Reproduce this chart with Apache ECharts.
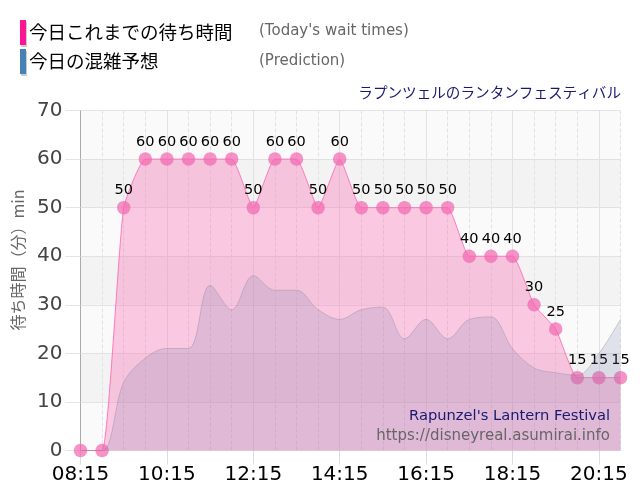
<!DOCTYPE html>
<html><head><meta charset="utf-8">
<style>html,body{margin:0;padding:0;background:#fff}#c{width:640px;height:500px}</style>
<script src="https://cdn.jsdelivr.net/npm/echarts@6/dist/echarts.min.js"></script>
</head><body><div id="c"></div>
<script>
const times = ['08:15','08:45','09:15','09:45','10:15','10:45','11:15','11:45','12:15','12:45','13:15','13:45','14:15','14:45','15:15','15:45','16:15','16:45','17:15','17:45','18:15','18:45','19:15','19:45','20:15','20:45'];
const waitTimes = [0,0,50,60,60,60,60,60,50,60,60,50,60,50,50,50,50,50,40,40,40,30,25,15,15,15];
const prediction = [0,0,14,19,21,21,34,29,36,33,33,29,27,29,29.5,23,27,23,27,27.5,21,17,16,15.5,20,27];
const legendJa = ['今日これまでの待ち時間','今日の混雑予想'];
const legendEn = ["(Today's wait times)",'(Prediction)'];
const axisName = '待ち時間（分）min';
const titleJa = 'ラプンツェルのランタンフェスティバル';
const titleEn = "Rapunzel's Lantern Festival";
const siteUrl = 'https://disneyreal.asumirai.info';
const jp = '"Noto Sans CJK JP","DejaVu Sans",sans-serif';
const latin = '"DejaVu Sans",sans-serif';
const every2h = i => i % 4 === 0;
const chart = echarts.init(document.getElementById('c'), null, {renderer:'canvas'});
chart.setOption({
  animation:false,
  backgroundColor:'#fff',
  grid:{left:80.5,right:19.5,top:110.5,bottom:49.5},
  xAxis:[
    {type:'category',data:times,boundaryGap:false,position:'bottom',
     axisLine:{show:false},
     axisTick:{show:true,interval:every2h,length:14,lineStyle:{color:'#ddd'}},
     axisLabel:{interval:every2h,color:'#000',fontSize:20,fontFamily:latin,margin:14,hideOverlap:false},
     splitLine:{show:true,interval:every2h,lineStyle:{color:'#ccc',type:'dotted',width:1}}},
    {type:'category',data:times,boundaryGap:false,position:'bottom',
     axisLine:{show:false},axisTick:{show:false},axisLabel:{show:false},
     splitLine:{show:true,interval:0,lineStyle:{color:'#e2e2e2',type:'dashed',width:1}}}
  ],
  yAxis:{type:'value',min:0,max:70,interval:10,
    axisLine:{show:true,lineStyle:{color:'#aaa'}},
    axisTick:{show:true,length:15,lineStyle:{color:'#e4e4e4'}},
    axisLabel:{color:'#444',fontSize:20,fontFamily:latin,margin:18},
    splitLine:{show:true,lineStyle:{color:'#ccc',type:'dotted'}},
    splitArea:{show:true,areaStyle:{color:['#fafafa','#f3f3f3']}}},
  series:[
    {name:'wait',type:'line',data:waitTimes,smooth:0.15,xAxisIndex:0,
     symbol:'circle',symbolSize:13.5,
     itemStyle:{color:'rgba(243,104,176,0.72)',borderWidth:0},
     lineStyle:{color:'rgba(255,105,180,0.85)',width:1},
     areaStyle:{color:'rgba(250,110,180,0.36)',opacity:1,origin:'start'},
     label:{show:true,position:'top',distance:3,color:'#000',fontSize:14.5,fontFamily:latin,formatter:p=>p.value?String(p.value):''},z:2},
    {name:'prediction',type:'line',data:prediction,smooth:0.35,xAxisIndex:0,
     symbol:'none',
     lineStyle:{color:'rgba(130,130,150,0.35)',width:1},
     areaStyle:{color:'rgba(110,120,170,0.19)',opacity:1,origin:'start'},z:3}
  ],
  graphic:[
    {type:'rect',shape:{x:21,y:22,width:6,height:25},style:{fill:'#ccc'},z:1},
    {type:'rect',shape:{x:20,y:20,width:6,height:25},style:{fill:'#ff1493'},z:2},
    {type:'rect',shape:{x:21,y:51,width:6,height:25},style:{fill:'#ccc'},z:1},
    {type:'rect',shape:{x:20,y:49,width:6,height:25},style:{fill:'#4682b4'},z:2},
    {type:'text',x:29,y:32,style:{text:legendJa[0],fill:'#000',font:'18.5px '+jp,textVerticalAlign:'middle'}},
    {type:'text',x:29,y:61,style:{text:legendJa[1],fill:'#000',font:'18.5px '+jp,textVerticalAlign:'middle'}},
    {type:'text',x:259,y:31,style:{text:legendEn[0],fill:'#666',font:'15px '+latin,textVerticalAlign:'middle'}},
    {type:'text',x:259,y:61,style:{text:legendEn[1],fill:'#666',font:'15px '+latin,textVerticalAlign:'middle'}},
    {type:'text',x:18,y:260,rotation:Math.PI/2,style:{text:axisName,fill:'#666',font:'16px '+jp,textAlign:'center',textVerticalAlign:'middle'}},
    {type:'text',x:621,y:92,style:{text:titleJa,fill:'#191970',font:'14.6px '+jp,textAlign:'right',textVerticalAlign:'middle'}},
    {type:'text',x:610,y:416,z:10,style:{text:titleEn,fill:'#191970',font:'14.7px '+latin,textAlign:'right',textVerticalAlign:'middle'}},
    {type:'text',x:610,y:436,z:10,style:{text:siteUrl,fill:'#666',font:'15px '+latin,textAlign:'right',textVerticalAlign:'middle'}}
  ]
});
</script></body></html>
